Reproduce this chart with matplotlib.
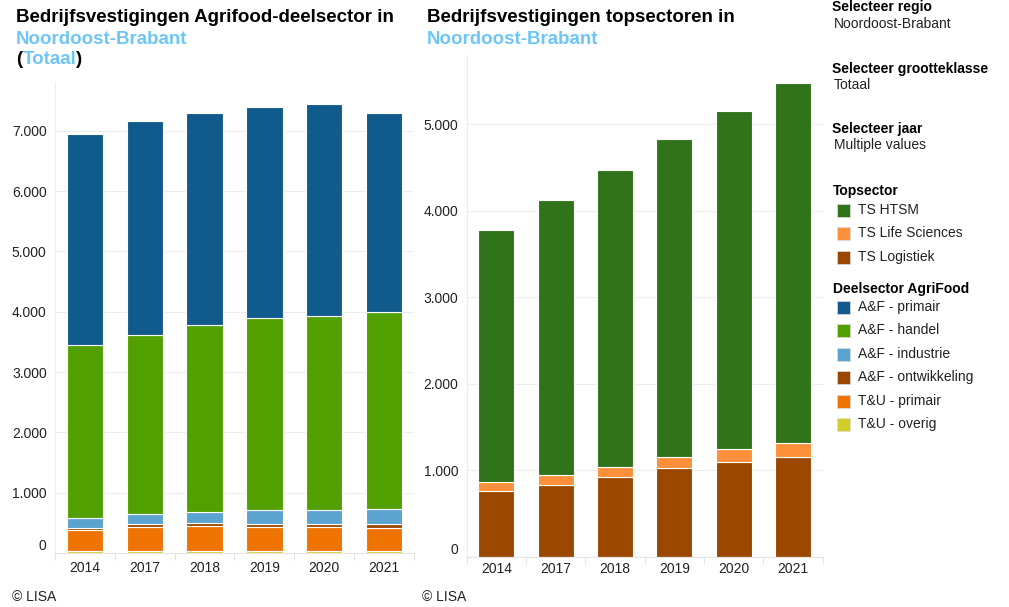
import matplotlib
matplotlib.use("Agg")
import matplotlib.pyplot as plt
import numpy as np
from matplotlib.patches import Rectangle

plt.rcParams['font.family'] = ['Liberation Sans', 'DejaVu Sans']

years = ['2014', '2017', '2018', '2019', '2020', '2021']

# Left chart: Agrifood deelsectoren (bottom to top)
tu_overig = [40, 35, 38, 38, 38, 38]
tu_primair = [340, 400, 415, 400, 400, 370]
af_ontwikkeling = [40, 45, 50, 50, 45, 65]
af_industrie = [160, 160, 170, 225, 230, 255]
af_handel = [2870, 2980, 3100, 3190, 3220, 3270]
af_primair = [3490, 3550, 3530, 3500, 3510, 3300]

# Right chart: topsectoren (bottom to top)
ts_logistiek = [760, 830, 915, 1025, 1090, 1155]
ts_life_sciences = [100, 110, 120, 130, 150, 160]
ts_htsm = [2910, 3180, 3435, 3675, 3910, 4155]

left_ticks = [0, 1000, 2000, 3000, 4000, 5000, 6000, 7000]
right_ticks = [0, 1000, 2000, 3000, 4000, 5000]

C_PRIM = '#115b8c'
C_HAND = '#52a000'
C_IND = '#5ba4cf'
C_ONTW = '#9b4700'
C_TUP = '#ef7300'
C_TUO = '#d3cd2b'
C_HTSM = '#31731b'
C_LS = '#ff903b'
C_LOG = '#9b4700'
BLUE_T = '#6ec6f7'

W, H = 1009, 607
fig = plt.figure(figsize=(W / 100, H / 100), dpi=100)


def px_rect(l, r, b, t):
    return [l / W, (H - b) / H, (r - l) / W, (b - t) / H]


def fmt(v):
    return f"{int(v):,}".replace(',', '.')


def style_axes(ax, ticks, ymax, xpad):
    ax.set_ylim(0, ymax)
    ax.set_xlim(-0.5, len(years) - 0.5)
    for s in ['top', 'right']:
        ax.spines[s].set_visible(False)
    ax.spines['left'].set_color('#eeeeee')
    ax.spines['bottom'].set_color('#e4e4e4')
    ax.spines['left'].set_linewidth(0.8)
    ax.spines['bottom'].set_linewidth(0.8)
    ax.set_yticks(ticks)
    ax.set_yticklabels([fmt(t) for t in ticks])
    ax.tick_params(axis='y', length=0, labelsize=10, pad=6, labelcolor='#222222')
    ax.set_xticks(range(len(years)))
    ax.set_xticklabels(years)
    ax.tick_params(axis='x', length=0, labelsize=10, pad=xpad, labelcolor='#222222')
    ax.set_xticks(np.arange(-0.5, len(years), 1.0), minor=True)
    ax.tick_params(axis='x', which='minor', length=5, color='#e4e4e4', width=0.8)
    ax.grid(axis='y', color='#ededed', linewidth=0.8)
    ax.set_axisbelow(True)
    lab0 = ax.get_yticklabels()[0]
    lab0.set_va('bottom')


x = np.arange(len(years))
bw = 0.61

# Left axes
axL = fig.add_axes(px_rect(55, 414, 553, 82))
bottom = np.zeros(len(years))
for vals, col in [(tu_overig, C_TUO), (tu_primair, C_TUP), (af_ontwikkeling, C_ONTW),
                  (af_industrie, C_IND), (af_handel, C_HAND), (af_primair, C_PRIM)]:
    axL.bar(x, vals, bw, bottom=bottom, color=col, edgecolor='white', linewidth=0.8)
    bottom += np.array(vals)
style_axes(axL, left_ticks, 7810, 6)

# Right axes
axR = fig.add_axes(px_rect(466.6, 822.7, 556.5, 55))
bottom = np.zeros(len(years))
for vals, col in [(ts_logistiek, C_LOG), (ts_life_sciences, C_LS), (ts_htsm, C_HTSM)]:
    axR.bar(x, vals, bw, bottom=bottom, color=col, edgecolor='white', linewidth=0.8)
    bottom += np.array(vals)
style_axes(axR, right_ticks, 5798, 4)


def ftext(xp, yp, s, **kw):
    return fig.text(xp / W, 1 - yp / H, s, **kw)


# Titles
TFS = 13.5
tkw = dict(fontsize=TFS, fontweight='bold', va='center', ha='left')
ftext(16, 18, 'Bedrijfsvestigingen Agrifood-deelsector in', color='black', **tkw)
ftext(16, 39, 'Noordoost-Brabant', color=BLUE_T, **tkw)

fig.canvas.draw()
r = fig.canvas.get_renderer()
t1 = ftext(16, 60, '(', color='black', **tkw)
bb1 = t1.get_window_extent(r)
t2 = ftext(bb1.x1 + 1, 60, 'Totaal', color=BLUE_T, **tkw)
bb2 = t2.get_window_extent(r)
ftext(bb2.x1 - 1, 60, ')', color='black', **tkw)

ftext(427, 18, 'Bedrijfsvestigingen topsectoren in', color='black', **tkw)
ftext(427, 39, 'Noordoost-Brabant', color=BLUE_T, **tkw)

# Right panel
hkw = dict(fontsize=10, fontweight='bold', va='center', ha='left', color='black')
nkw = dict(fontsize=10, va='center', ha='left', color='#222222')
ftext(832, 7, 'Selecteer regio', **hkw)
ftext(834, 24, 'Noordoost-Brabant', **nkw)
ftext(832, 69, 'Selecteer grootteklasse', **hkw)
ftext(834, 85, 'Totaal', **nkw)
ftext(832, 129, 'Selecteer jaar', **hkw)
ftext(834, 145, 'Multiple values', **nkw)
ftext(833, 191, 'Topsector', **hkw)
ftext(833, 289, 'Deelsector AgriFood', **hkw)

legend_items = [
    (210, 'TS HTSM', C_HTSM), (233, 'TS Life Sciences', C_LS), (257, 'TS Logistiek', C_LOG),
    (307, 'A&F - primair', C_PRIM), (330, 'A&F - handel', C_HAND), (354, 'A&F - industrie', C_IND),
    (377, 'A&F - ontwikkeling', C_ONTW), (401, 'T&U - primair', C_TUP), (424, 'T&U - overig', C_TUO),
]
for yc, lab, col in legend_items:
    fig.patches.append(Rectangle((837 / W, 1 - (yc + 6.5) / H), 13 / W, 13 / H,
                                 transform=fig.transFigure, facecolor=col,
                                 edgecolor='#dddddd', linewidth=0.5))
    ftext(858, yc, lab, **nkw)

ftext(12, 597, '\u00a9 LISA', fontsize=10, va='center', ha='left', color='#222222')
ftext(422, 597, '\u00a9 LISA', fontsize=10, va='center', ha='left', color='#222222')

fig.savefig('out.png', dpi=100)
